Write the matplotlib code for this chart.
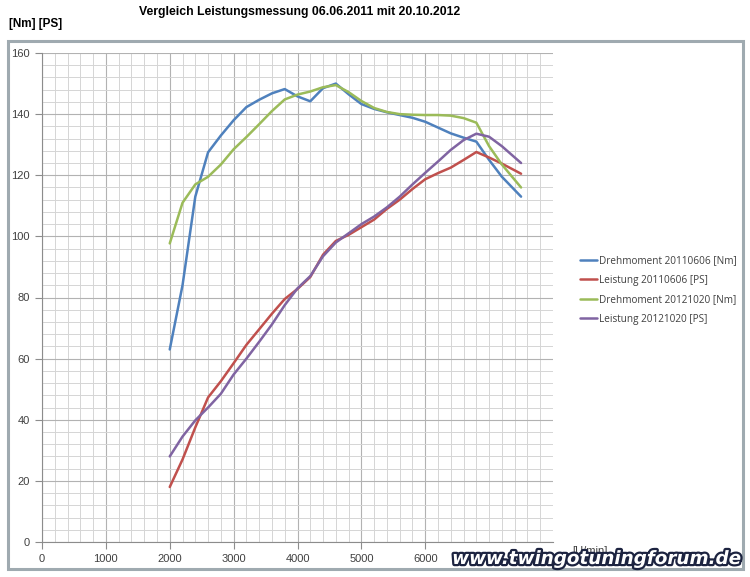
import matplotlib
matplotlib.use("Agg")
import matplotlib.pyplot as plt
import matplotlib.patheffects as pe
from matplotlib.patches import Rectangle
from matplotlib.ticker import MultipleLocator

# Drehzahl [U/min]
rpm = [2000, 2200, 2400, 2600, 2800, 3000, 3200, 3400, 3600, 3800, 4000, 4200, 4400,
       4600, 4800, 5000, 5200, 5400, 5600, 5800, 6000, 6200, 6400, 6600, 6800, 7000,
       7200, 7500]

drehmoment_2011 = [63, 84, 113, 127.5, 133, 138, 142.3, 144.7, 146.8, 148.2, 145.8, 144.2,
                   148.5, 150, 146.5, 143.3, 141.7, 140.6, 139.7, 138.8, 137.5, 135.6,
                   133.7, 132.3, 131, 125, 119.5, 113]
leistung_2011 = [18, 27, 37.5, 47.3, 52.6, 58.5, 64.5, 69.6, 74.7, 79.5, 82.8, 86.7, 94,
                 98.5, 100.5, 103, 105.5, 109, 112, 115.5, 118.7, 120.7, 122.5, 125, 127.6,
                 125.8, 123.8, 120.5]
drehmoment_2012 = [97.7, 111, 117, 119.5, 123.5, 128.5, 132.5, 136.7, 141, 144.8, 146.4,
                   147.4, 148.8, 149.5, 147.2, 144.3, 142, 140.7, 140, 139.8, 139.7, 139.7,
                   139.5, 138.7, 137.2, 129.5, 123.5, 116]
leistung_2012 = [28, 34.5, 39.8, 44, 48.5, 54.8, 60, 65.5, 71.2, 77.5, 83, 87, 93.5, 98,
                 101, 104, 106.5, 109.5, 113, 117, 120.8, 124.5, 128.3, 131.5, 133.6, 132.6,
                 129.5, 124]

x_ticks = [0, 1000, 2000, 3000, 4000, 5000, 6000]

series = [
    ("Drehmoment 20110606 [Nm]", drehmoment_2011, "#4F81BD"),
    ("Leistung 20110606 [PS]", leistung_2011, "#C0504D"),
    ("Drehmoment 20121020 [Nm]", drehmoment_2012, "#9BBB59"),
    ("Leistung 20121020 [PS]", leistung_2012, "#8064A2"),
]

fig = plt.figure(figsize=(7.5, 5.77), dpi=100)
ax = fig.add_axes([42 / 750, 1 - 542 / 577, (553 - 42) / 750, (542 - 53) / 577])

for name, vals, col in series:
    ax.plot(rpm, vals, color=col, lw=1.8, label=name, solid_joinstyle="round",
            solid_capstyle="round")

ax.set_xlim(0, 8000)
ax.set_ylim(0, 160)
# 7000/8000 liegen unter dem Wasserzeichen
ax.set_xticks(x_ticks)
ax.xaxis.set_minor_locator(MultipleLocator(200))
ax.yaxis.set_major_locator(MultipleLocator(20))
ax.yaxis.set_minor_locator(MultipleLocator(4))
ax.grid(which="major", color="#B2B2B2", lw=0.8)
ax.grid(which="minor", color="#D5D5D5", lw=0.7)
ax.set_axisbelow(True)

for s in ["top", "right"]:
    ax.spines[s].set_visible(False)
for s in ["left", "bottom"]:
    ax.spines[s].set_color("#8C8C8C")
ax.tick_params(which="major", length=5, color="#8C8C8C", labelsize=8, labelcolor="#404040", pad=4)
ax.tick_params(which="minor", length=0)
for lab in ax.get_xticklabels() + ax.get_yticklabels():
    lab.set_family("Liberation Sans")

leg = ax.legend(loc="center left", bbox_to_anchor=(1.035, 0.515), frameon=False,
                fontsize=7.2, handlelength=1.7, handletextpad=0.2, labelspacing=0.85)
for t in leg.get_texts():
    t.set_color("#404040")
    t.set_family("Open Sans")

# Titel und Achsenbeschriftung
fig.text(300 / 750, 1 - 12 / 577, "Vergleich Leistungsmessung 06.06.2011 mit 20.10.2012",
         ha="center", va="center", fontsize=8.8, fontweight="bold", family="Liberation Sans")
fig.text(9 / 750, 1 - 24 / 577, "[Nm] [PS]", ha="left", va="center", fontsize=8.5,
         fontweight="bold", family="Liberation Sans")
fig.text(590 / 750, 1 - 551 / 577, "[U/min]", ha="center", va="center", fontsize=8,
         color="#404040", family="Liberation Sans")

# Diagrammrahmen
fig.patches.append(Rectangle((8 / 750, 1 - 569 / 577), (743 - 8) / 750, (569 - 41) / 577,
                             transform=fig.transFigure, fill=False, edgecolor="#9FAAB0",
                             lw=2.2, zorder=0))

# Wasserzeichen
fig.text(742 / 750, 1 - 559 / 577, "www.twingotuningforum.de", ha="right", va="center",
         fontsize=13.2, fontweight="heavy", style="italic", color="white",
         family="DejaVu Sans", zorder=10,
         path_effects=[pe.withStroke(linewidth=3.2, foreground="#1C2340")])

fig.savefig("out.png", dpi=100)
